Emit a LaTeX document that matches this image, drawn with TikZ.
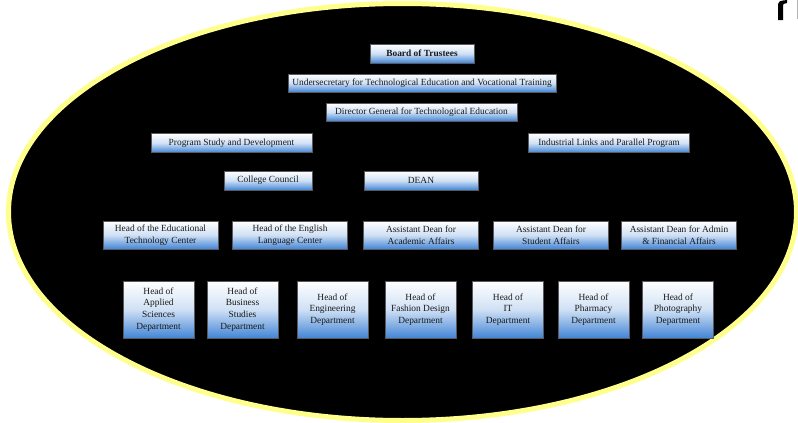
\documentclass[tikz,border=0pt]{standalone}
\usepackage{fontspec}
\setmainfont{Liberation Serif}
\definecolor{rim_c}{rgb}{1.0, 1.0, 0.5490196078431373}
\definecolor{box_c}{rgb}{0.25882352941176473, 0.5215686274509804, 0.8392156862745098}
\definecolor{edge_c}{rgb}{0.35, 0.35, 0.37}
\usepackage{tikz}
\usetikzlibrary{positioning,
                shapes,
                shapes.geometric}

\begin{document}
\begin{tikzpicture}[
			x=1pt, y=-1pt,
			unit/.style = {rectangle, draw=edge_c, line width=0.9pt, inner sep=0pt,
				top color=white, bottom color=box_c, middle color=box_c!25,
				text=black!90, align=center,
				font=\fontsize{9.4}{11.7}\selectfont},
			dept/.style = {unit, minimum width=71pt, minimum height=57pt},
			head/.style = {unit, minimum width=115pt, minimum height=28pt},
			]
			\useasboundingbox (0,0) rectangle (798,423);
			% ellipse
			\draw[line width=5pt, draw=rim_c, fill=black] (402.5,212) ellipse (394 and 208.5);
			% corner fragment
			\fill[black] (778,20) -- (778,4) .. controls (779,1) .. (787,0) -- (787,3) .. controls (783,4) .. (783,6) -- (783,20) -- cycle;
			\draw[gray!60, line width=0.8pt] (797.5,0) -- (797.5,19);
			% top of the chart
			\node[unit, minimum width=104pt, minimum height=19pt, font=\fontsize{9.4}{11.7}\selectfont\bfseries] (board) at (422,53.5) {Board of Trustees};
			\node[unit, minimum width=268pt, minimum height=18pt] (under) at (422,83) {Undersecretary for Technological Education and Vocational Training};
			\node[unit, minimum width=191pt, minimum height=18pt] (dg) at (421.5,112) {Director General for Technological Education};
			\node[unit, minimum width=161pt, minimum height=19pt] (psd) at (231.5,143) {Program Study and Development};
			\node[unit, minimum width=161pt, minimum height=19pt] (ilp) at (609,143) {Industrial Links and Parallel Program};
			\node[unit, minimum width=88pt, minimum height=19pt] (cc) at (268,180.5) {College Council};
			\node[unit, minimum width=114pt, minimum height=19pt] (dean) at (421,180.5) {DEAN};
			% heads and assistant deans
			\node[head] (etc) at (160.5,235) {Head of the Educational\\Technology Center};
			\node[head] (elc) at (290,235) {Head of the English\\Language Center};
			\node[head] (ada) at (421,235) {Assistant Dean for\\Academic Affairs};
			\node[head] (ads) at (551,235) {Assistant Dean for\\Student Affairs};
			\node[head] (adf) at (679,235) {Assistant Dean for Admin\\\& Financial Affairs};
			% departments
			\node[dept] (as) at (158.5,309.5) {Head of\\Applied\\Sciences\\Department};
			\node[dept] (bs) at (242.5,309.5) {Head of\\Business\\Studies\\Department};
			\node[dept] (en) at (332.5,309.5) {Head of\\Engineering\\Department};
			\node[dept] (fd) at (420.5,309.5) {Head of\\Fashion Design\\Department};
			\node[dept] (it) at (508,309.5) {Head of\\IT\\Department};
			\node[dept] (ph) at (593.5,309.5) {Head of\\Pharmacy\\Department};
			\node[dept] (pg) at (678,309.5) {Head of\\Photography\\Department};
		\end{tikzpicture}
\end{document}
